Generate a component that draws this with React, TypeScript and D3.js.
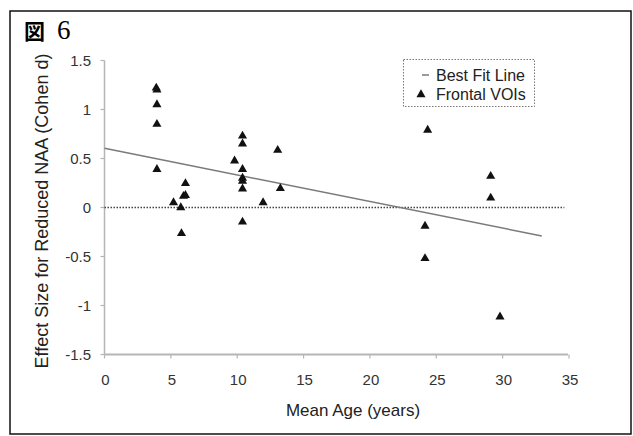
import React from "react";
import * as d3 from "d3";

const ages = [3.9, 3.95, 3.95, 3.95, 3.95, 5.2, 5.75, 5.8, 5.95, 6.1, 6.1, 9.8, 10.4, 10.4, 10.4, 10.4, 10.4, 10.4, 10.4, 11.95, 13.05, 13.25, 24.15, 24.15, 24.35, 29.1, 29.1, 29.8];
const effects = [1.22, 1.2, 1.05, 0.85, 0.39, 0.05, 0.0, -0.265, 0.115, 0.125, 0.245, 0.476, 0.73, 0.65, 0.39, 0.3, 0.27, 0.19, -0.147, 0.05, 0.585, 0.194, -0.19, -0.52, 0.79, 0.32, 0.098, -1.116];
const fitX = [0, 32.95];
const fitY = [0.604, -0.29];
const xTicks = [0, 5, 10, 15, 20, 25, 30, 35];
const yTicks = [1.5, 1, 0.5, 0, -0.5, -1, -1.5];
const yTickLabels = ["1.5", "1", "0.5", "0", "-0.5", "-1", "-1.5"];
const legendLabels = ["Best Fit Line", "Frontal VOIs"];
const xTitle = "Mean Age (years)";
const yTitle = "Effect Size for Reduced NAA (Cohen d)";

const W = 633;
const H = 436;
const sans = "Arial, 'Liberation Sans', Helvetica, sans-serif";

export default function App() {
  const x = d3.scaleLinear().domain([0, 35]).range([104.5, 569]);
  const y = d3.scaleLinear().domain([-1.5, 1.5]).range([354.5, 60.5]);
  const tri = d3.symbol().type(d3.symbolTriangle).size(36)();
  const fitLine = d3
    .line<number>()
    .x((_, i) => x(fitX[i]))
    .y((d) => y(d))(fitY);

  return (
    <svg
      width={W}
      height={H}
      style={{ position: "absolute", left: 0, top: 0, display: "block", background: "#fff" }}
    >
      <rect x={0} y={0} width={W} height={H} fill="#fff" />
      {/* frame */}
      <rect x={10} y={11} width={621} height={423} fill="none" stroke="#111" strokeWidth={1.5} />
      {/* figure title */}
      <text x={24} y={39} fill="#000">
        <tspan fontFamily="'Noto Sans CJK JP', sans-serif" fontSize={21} fontWeight={700}>図</tspan>
        <tspan x={57} fontFamily="'Liberation Serif', 'Times New Roman', serif" fontSize={27}>6</tspan>
      </text>

      {/* axes */}
      <line x1={x(0)} x2={x(0)} y1={y(1.5)} y2={y(-1.5)} stroke="#b5b5b5" strokeWidth={1.5} />
      <line x1={x(0)} x2={568} y1={y(-1.5)} y2={y(-1.5)} stroke="#b5b5b5" strokeWidth={2} />
      {yTicks.map((t, i) => (
        <g key={"y" + i}>
          <line x1={x(0) - 4} x2={x(0)} y1={y(t)} y2={y(t)} stroke="#b5b5b5" strokeWidth={1.2} />
          <text
            x={91}
            y={y(t)}
            textAnchor="end"
            dominantBaseline="central"
            fontFamily={sans}
            fontSize={15}
            fill="#333"
          >
            {yTickLabels[i]}
          </text>
        </g>
      ))}
      {xTicks.map((t) => (
        <g key={"x" + t}>
          <line x1={x(t)} x2={x(t)} y1={y(-1.5)} y2={y(-1.5) + 4} stroke="#b5b5b5" strokeWidth={1.2} />
          <text
            x={x(t) + 1}
            y={379}
            textAnchor="middle"
            dominantBaseline="central"
            fontFamily={sans}
            fontSize={15}
            fill="#333"
          >
            {t}
          </text>
        </g>
      ))}

      {/* zero line */}
      <line
        x1={x(0)}
        x2={x(34.65)}
        y1={y(0)}
        y2={y(0)}
        stroke="#444"
        strokeWidth={1.5}
        strokeDasharray="1.5,1.5"
      />

      {/* best fit line */}
      <path d={fitLine || ""} fill="none" stroke="#7a7a7a" strokeWidth={1.5} />

      {/* points */}
      {ages.map((a, i) => (
        <path key={"p" + i} d={tri || ""} transform={`translate(${x(a)},${y(effects[i])})`} fill="#111" />
      ))}

      {/* legend */}
      <rect
        x={403.5}
        y={59.5}
        width={131}
        height={47}
        fill="#fff"
        stroke="#777"
        strokeWidth={1}
        strokeDasharray="1.5,1.5"
      />
      <line x1={422} x2={429} y1={75} y2={75} stroke="#7a7a7a" strokeWidth={1.5} />
      <text x={436} y={75} dominantBaseline="central" fontFamily={sans} fontSize={16} fill="#222">
        {legendLabels[0]}
      </text>
      <path d={tri || ""} transform="translate(421,94.5)" fill="#111" />
      <text x={436} y={94} dominantBaseline="central" fontFamily={sans} fontSize={16} fill="#222">
        {legendLabels[1]}
      </text>

      {/* axis titles */}
      <text x={353} y={410} textAnchor="middle" dominantBaseline="central" fontFamily={sans} fontSize={17} fill="#222">
        {xTitle}
      </text>
      <text
        transform={`translate(42,211) rotate(-90)`}
        textAnchor="middle"
        dominantBaseline="central"
        fontFamily={sans}
        fontSize={18}
        fill="#222"
      >
        {yTitle}
      </text>
    </svg>
  );
}
